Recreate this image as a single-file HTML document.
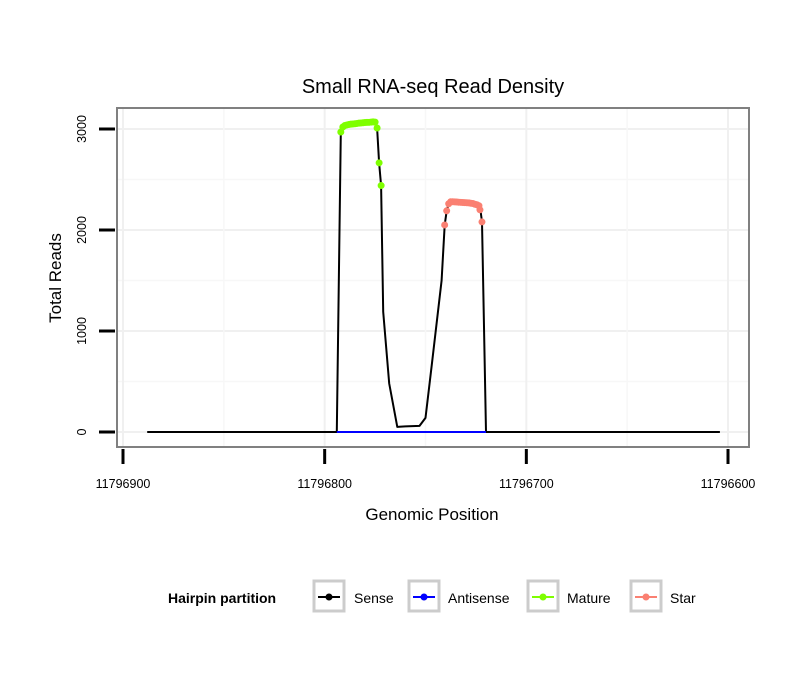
<!DOCTYPE html>
<html><head><meta charset="utf-8"><style>
body{margin:0;background:#fff;font-family:"Liberation Sans",sans-serif}
svg text{font-family:"Liberation Sans",sans-serif}
</style></head><body>
<svg id="chart" width="810" height="690" xmlns="http://www.w3.org/2000/svg">
<rect width="810" height="690" fill="#fff"/>
<text x="433" y="93" font-size="20" text-anchor="middle">Small RNA-seq Read Density</text>
<g id="grid"></g>
<g id="marks"></g>
<rect x="117" y="108" width="632" height="339" fill="none" stroke="#808080" stroke-width="2"/>
<g id="axes"></g>
<text x="432" y="520" font-size="17" text-anchor="middle">Genomic Position</text>
<text transform="translate(61,278) rotate(-90)" font-size="17" text-anchor="middle">Total Reads</text>
<g>
<text x="168" y="603" font-size="14" font-weight="bold">Hairpin partition</text>
<g><rect x="314" y="581" width="30" height="30" fill="#fff" stroke="#ccc" stroke-width="3"/><line x1="318" y1="597" x2="340" y2="597" stroke="#000" stroke-width="2"/><circle cx="329" cy="597" r="3.5" fill="#000"/><text x="354" y="603" font-size="14">Sense</text></g>
<g><rect x="409" y="581" width="30" height="30" fill="#fff" stroke="#ccc" stroke-width="3"/><line x1="413" y1="597" x2="435" y2="597" stroke="#00f" stroke-width="2"/><circle cx="424" cy="597" r="3.5" fill="#00f"/><text x="448" y="603" font-size="14">Antisense</text></g>
<g><rect x="528" y="581" width="30" height="30" fill="#fff" stroke="#ccc" stroke-width="3"/><line x1="532" y1="597" x2="554" y2="597" stroke="#7fff00" stroke-width="2"/><circle cx="543" cy="597" r="3.5" fill="#7fff00"/><text x="567" y="603" font-size="14">Mature</text></g>
<g><rect x="631" y="581" width="30" height="30" fill="#fff" stroke="#ccc" stroke-width="3"/><line x1="635" y1="597" x2="657" y2="597" stroke="#fa8072" stroke-width="2"/><circle cx="646" cy="597" r="3.5" fill="#fa8072"/><text x="670" y="603" font-size="14">Star</text></g>
</g>
</svg>
<script>
const BASE = 11796000;
const xTicks = [11796900, 11796800, 11796700, 11796600];
const yTicks = [0, 1000, 2000, 3000];
const sensePos = [888,794,792,791,790,788,786,784,782,780,778,776,775,774,773,772,771,768,764,760,753,750,747,742,740.5,739.5,738.5,737.5,734,730,726,724,722.8,722,720,604];
const senseReads = [0,0,2960,3020,3040,3045,3050,3055,3060,3065,3065,3070,3070,3010,2665,2440,1190,480,50,55,60,140,650,1500,2050,2190,2260,2280,2275,2270,2255,2240,2200,2080,0,0];
const antiPos = [794,720];
const antiReads = [0,0];
const maturePos = [792,791,790,789,788,787,786,785,784,783,782,781,780,779,778,777,776,775,774,773,772];
const matureReads = [2970,3020,3035,3040,3045,3048,3050,3052,3055,3058,3060,3062,3064,3065,3066,3068,3070,3068,3010,2665,2440];
const starPos = [740.5,739.5,738.5,737.5,736.5,735.5,734.5,733.5,732.5,731.5,730.5,729.5,728.5,727.5,726.5,725.5,724.5,723.5,723,722];
const starReads = [2050,2190,2260,2280,2280,2278,2277,2275,2274,2272,2271,2270,2268,2265,2262,2255,2250,2240,2200,2080];

const NS = "http://www.w3.org/2000/svg";
function xs(p){ return 123 + (11796900 - p) * 2.0167; }
function ys(v){ return 432 - v * 0.101; }
function mk(tag, attrs, parent){ const e=document.createElementNS(NS,tag); for(const k in attrs) e.setAttribute(k,attrs[k]); parent.appendChild(e); return e; }
const grid=document.getElementById('grid'), marks=document.getElementById('marks'), axes=document.getElementById('axes');
mk('rect',{x:117,y:108,width:632,height:339,fill:'#fff'},grid);
for(let v=-500; v<=3500; v+=500){ const y=ys(v); if(y<108||y>447) continue;
  const l=mk('line',{x1:117,x2:749,y1:y,y2:y,stroke:v%1000===0?'#f0f0f0':'#f7f7f7','stroke-width':v%1000===0?2:1.5},grid);
    }
for(let p=11796950; p>=11796550; p-=50){ const x=xs(p); if(x<117||x>749) continue;
  const l=mk('line',{x1:x,x2:x,y1:108,y2:447,stroke:p%100===0?'#f0f0f0':'#f7f7f7','stroke-width':p%100===0?2:1.5},grid);
    }
function path(pos, reads, color, name){
  const d=pos.map((p,i)=>(i?'L':'M')+xs(BASE+p).toFixed(1)+','+ys(reads[i]).toFixed(1)).join(' ');
  const e=mk('path',{d:d,fill:'none',stroke:color,'stroke-width':2,'stroke-linejoin':'round'},marks);
   
}
path(sensePos,senseReads,'#000','sense-line');
path(antiPos,antiReads,'#00f','antisense-line');
function pts(pos, reads, color, name){
  pos.forEach((p,i)=>{ const c=mk('circle',{cx:xs(BASE+p),cy:ys(reads[i]),r:3.5,fill:color},marks);
      });
}
pts(maturePos,matureReads,'#7fff00','mature-point');
pts(starPos,starReads,'#fa8072','star-point');
xTicks.forEach(t=>{ const x=xs(t);
  const l=mk('line',{x1:x,x2:x,y1:449,y2:464,stroke:'#000','stroke-width':3},axes);
   
  const tx=mk('text',{x:x,y:488,'font-size':12.5,'text-anchor':'middle'},axes); tx.textContent=t;
    });
yTicks.forEach(v=>{ const y=ys(v);
  const l=mk('line',{x1:99,x2:115,y1:y,y2:y,stroke:'#000','stroke-width':3},axes);
   
  const tx=mk('text',{transform:`translate(86,${y}) rotate(-90)`,'font-size':12.5,'text-anchor':'middle'},axes); tx.textContent=v;
    });
</script>
</body></html>
